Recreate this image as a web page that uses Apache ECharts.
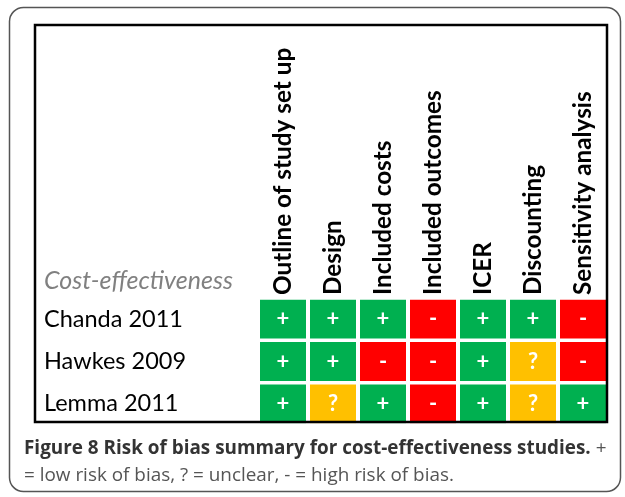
<!DOCTYPE html>
<html><head><meta charset="utf-8">
<script src="https://cdn.jsdelivr.net/npm/echarts@6/dist/echarts.min.js"></script>
<style>html,body{margin:0;padding:0;background:#fff}#c{width:625px;height:497px}</style>
</head><body><div id="c"></div>
<script>
const domains = ["Outline of study set up","Design","Included costs","Included outcomes","ICER","Discounting","Sensitivity analysis"];
const studies = ["Chanda 2011","Hawkes 2009","Lemma 2011"];
const chanda = ["+","+","+","-","+","+","-"];
const hawkes = ["+","+","-","-","+","?","-"];
const lemma  = ["+","?","+","-","+","?","+"];
const groupTitle = "Cost-effectiveness";
const captionBold = "Figure 8 Risk of bias summary for cost-effectiveness studies.";
const captionRest1 = " +";
const captionLine2 = "= low risk of bias, ? = unclear, - = high risk of bias.";

const colors = {"+":"#00B050","-":"#FF0000","?":"#FFC000"};
const rows = [chanda, hawkes, lemma];
const data = [];
rows.forEach((r, ri) => r.forEach((v, ci) => data.push([ci, ri, v])));

const chart = echarts.init(document.getElementById('c'), null, {renderer:'canvas'});
chart.setOption({
  animation:false,
  grid:{left:258, top:298, width:350, height:127},
  xAxis:{type:'category', data:domains, position:'top',
    axisLine:{show:false}, axisTick:{show:false}, splitLine:{show:false},
    axisLabel:{rotate:-90, margin:3, color:'#000', fontFamily:'Lato', fontWeight:'bold', fontSize:24.3, interval:0}},
  yAxis:{type:'category', data:studies, inverse:true,
    axisLine:{show:false}, axisTick:{show:false}, splitLine:{show:false},
    axisLabel:{align:'left', margin:214, color:'#000', fontFamily:'Lato', fontSize:23.5, padding:[9,0,0,0]}},
  series:[{
    type:'custom', data:data, clip:true,
    renderItem:(params, api) => {
      const c = api.coord([api.value(0), api.value(1)]);
      const s = api.size([1,1]);
      const v = data[params.dataIndex][2];
      const w = s[0]-4, h = s[1]-3.5;
      return {type:'group', children:[
        {type:'rect', shape:{x:c[0]-w/2, y:c[1]-h/2, width:w, height:h}, style:{fill:colors[v]}},
        {type:'text', style:{text:v, x:c[0], y:c[1], align:'center', verticalAlign:'middle', fill:'#fff', font:'bold 22px Lato'}}
      ]};
    }
  }],
  graphic:[
    {type:'rect', z:10, shape:{x:9.5, y:7.5, width:611, height:484, r:14}, style:{fill:null, stroke:'#555', lineWidth:1.5}},
    {type:'rect', z:10, shape:{x:35, y:25, width:572, height:397}, style:{fill:null, stroke:'#000', lineWidth:2.5}},
    {type:'rect', z:9, shape:{x:36.5, y:423.5, width:580, height:60}, style:{fill:'#fff'}},
    {type:'text', z:10, left:44, top:268, style:{text:groupTitle, fill:'#808080', font:'italic 25px Lato'}},
    {type:'text', z:10, left:24, top:439, style:{
      text:'{b|'+captionBold+'}{r|'+captionRest1+'}\n{r|'+captionLine2+'}',
      rich:{
        b:{fontFamily:'Open Sans', fontWeight:'bold', fontSize:18.9, fill:'#333', lineHeight:27},
        r:{fontFamily:'Open Sans', fontSize:18.9, fill:'#555', lineHeight:27}
      }}}
  ]
});
</script></body></html>
